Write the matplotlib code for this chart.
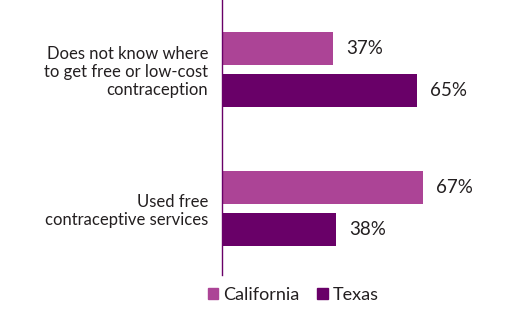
import numpy as np
import matplotlib.pyplot as plt
from matplotlib.patches import Patch

categories = ["Does not know where\nto get free or low-cost\ncontraception",
              "Used free\ncontraceptive services"]
california = [37, 67]
texas = [65, 38]
series_names = ["California", "Texas"]

ca_color = "#AC4496"
tx_color = "#690068"
text_color = "#231F20"

plt.rcParams['font.family'] = ['Lato', 'DejaVu Sans']

fig = plt.figure(figsize=(5.3, 3.24), dpi=100)
ax = fig.add_axes([222 / 530, 49 / 324, 300 / 530, 275 / 324])

y = np.arange(len(categories))
h = 0.237
off = 0.151
b1 = ax.barh(y - off, california, height=h, color=ca_color)
b2 = ax.barh(y + off, texas, height=h, color=tx_color)

for bars, vals in ((b1, california), (b2, texas)):
    for b, v in zip(bars, vals):
        ax.text(v + 4.3, b.get_y() + b.get_height() / 2, f"{v}%",
                va="center", ha="left", fontsize=13.5, color=text_color)

ax.set_xlim(0, 100)
ax.set_ylim(1.478, -0.5)
ax.set_yticks(y)
ax.set_yticklabels(categories, fontsize=12, color=text_color, linespacing=1.17)
ax.tick_params(axis="y", length=0, pad=10)
ax.set_xticks([])
for s in ["top", "right", "bottom"]:
    ax.spines[s].set_visible(False)
ax.spines["left"].set_color(tx_color)
ax.spines["left"].set_linewidth(1)

handles = [Patch(color=ca_color), Patch(color=tx_color)]
fig.legend(handles, series_names, loc="center", bbox_to_anchor=(293 / 530, 1 - 295 / 324),
           ncol=2, frameon=False, fontsize=13, handlelength=0.6, handleheight=0.6,
           handletextpad=0.25, columnspacing=1.0, labelcolor=text_color)

fig.savefig("out.png", dpi=100)
